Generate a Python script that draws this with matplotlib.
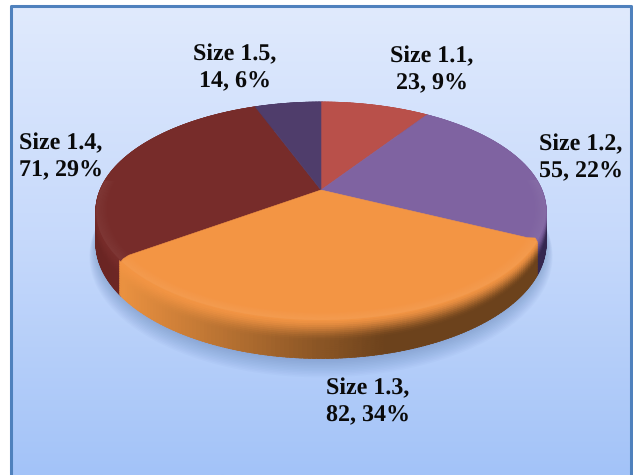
import numpy as np
import matplotlib.pyplot as plt
from matplotlib.colors import LinearSegmentedColormap, to_rgb

labels = ["Size 1.1", "Size 1.2", "Size 1.3", "Size 1.4", "Size 1.5"]
values = [23, 55, 82, 71, 14]
percents = [9, 22, 34, 29, 6]
colors = ["#B9504A", "#7F63A1", "#F39544", "#772C2A", "#4F3D6B"]
side_light = ["#A5443F", "#5F4A80", "#EA9140", "#7C2D2A", "#3D2F55"]
side_dark = ["#7A2F2B", "#33264F", "#6C421C", "#6A2523", "#2E2342"]
label_x = [432, 581, 368, 61, 235]
label_y = [70, 158, 402, 157, 68]

# pie geometry in pixels, a circle seen in perspective
cx, cy = 321, 190
rx, ry, k = 221, 105, 0.1927
depth = 30.5
round_t = 0.035  # the orange slice has rounded corners

plt.rcParams["text.hinting"] = "no_hinting"
plt.rcParams["text.hinting_factor"] = 1

fig = plt.figure(figsize=(6.33, 4.75), dpi=100)
ax = fig.add_axes([0, 0, 1, 1])
ax.axis("off")

bg = LinearSegmentedColormap.from_list("bg", ["#E0EAFD", "#C6D9FB", "#A3C3F8"])
grad = np.linspace(0, 1, 256).reshape(-1, 1)
ax.imshow(grad, cmap=bg, extent=[11, 631, 475, 6], aspect="auto", zorder=0)
ax.set_xlim(0, 633)
ax.set_ylim(475, 0)
ax.plot([11, 11, 631, 631], [475, 6, 6, 475], color="#4F81BD", lw=2.2, zorder=1)


def project(t, r=1.0, z=0.0):
    # t runs clockwise from the top of the pie
    u = r * np.sin(t)
    v = r * np.cos(t)
    den = 1 + k * v
    return cx + rx * u / den, cy - ry * v / den + z / den


def mix(a, b, f):
    a, b = np.array(to_rgb(a)), np.array(to_rgb(b))
    return tuple(a + (b - a) * f)


edges = np.cumsum([0] + values) / sum(values) * 2 * np.pi
starts = edges[:-1].copy()
ends = edges[1:].copy()
# neighbours of the orange slice run on under its rounded corners
starts[2] += round_t
ends[2] -= round_t
ends[1] += round_t
starts[3] -= round_t

# soft shadow under the pie
tt = np.linspace(0, 2 * np.pi, 240)
for i in range(12):
    sx, sy = project(tt, 1.0 + 0.0025 * i, depth + 2 + i * 0.9)
    ax.fill(sx, sy, color="#4A6FA5", alpha=0.035, lw=0, zorder=2)

# side wall, strip by strip from back to front
strips = []
for i in range(len(values)):
    n = max(int((ends[i] - starts[i]) * 60), 2)
    ts = np.linspace(starts[i], ends[i], n + 1)
    for a, b in zip(ts[:-1], ts[1:]):
        strips.append((np.cos((a + b) / 2), i, a, b))
strips.sort(key=lambda s: -s[0])
for _, i, a, b in strips:
    x_mid = project((a + b) / 2)[0]
    f = np.clip((x_mid - 125) / 260, 0, 1)
    if i != 2:
        f = np.clip(abs(x_mid - cx) / 225, 0, 1)
    wall = mix(side_light[i], side_dark[i], f)
    layers = np.linspace(0, depth, 21)
    for z0, z1 in zip(layers[:-1], layers[1:]):
        w = np.clip(z1 / (depth * 0.6), 0, 1)
        c = mix(colors[i], wall, w * w * (3 - 2 * w))
        x0, y0 = project(np.array([a, b + 0.012]), 1.0, z0)
        x1, y1 = project(np.array([b + 0.012, a]), 1.0, z1 + 0.5)
        ax.fill(np.r_[x0, x1], np.r_[y0, y1], color=c, lw=0.5, ec=c, zorder=3)

# top faces, orange last so its corners lie on top
for i in [0, 1, 3, 4, 2]:
    ts = np.linspace(starts[i], ends[i], 160)
    fx, fy = project(ts)
    if i == 2:
        sx, sy = project(starts[i] - np.array([0.012, 0.024]), np.array([0.955, 0.985]))
        ex, ey = project(ends[i] + np.array([0.012, 0.024]), np.array([0.985, 0.955]))
        fx = np.r_[sx, fx, ex]
        fy = np.r_[sy, fy, ey]
    z = 6 if i == 2 else 4
    ax.fill(np.r_[cx, fx], np.r_[cy, fy], color=colors[i], lw=0.4, ec=colors[i], zorder=z)
    # bevel shows only along the front of the rim
    rim = mix(colors[i], "#FFFFFF", 0.10)
    shown = np.cos(ts) < 0.1
    for r in np.linspace(0.996, 0.95, 10):
        bx, by = project(ts[shown], r)
        if len(bx):
            ax.plot(bx, by, color=rim, lw=1.0, alpha=(r - 0.945) * 9,
                    solid_capstyle="butt", zorder=z)

for i in range(len(values)):
    ax.text(label_x[i], label_y[i], f"{labels[i]},\n{values[i]}, {percents[i]}%",
            family="Liberation Serif", weight="bold", fontsize=17.2, color="#0A0A0A",
            ha="center", va="center", linespacing=1.36, zorder=8)

fig.savefig("out.png", dpi=100)
